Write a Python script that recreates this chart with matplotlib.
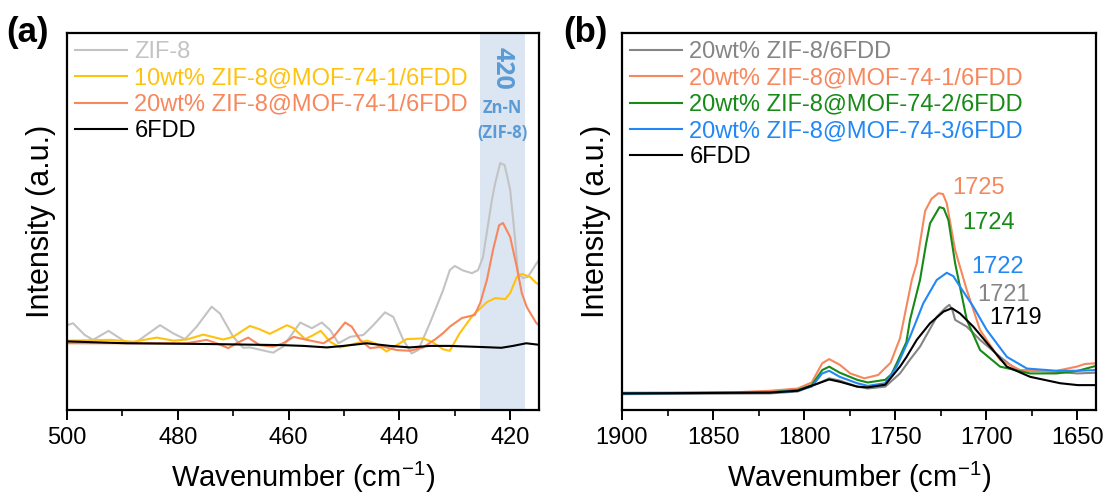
import numpy as np
import matplotlib
matplotlib.use("Agg")
import matplotlib.pyplot as plt
from matplotlib.ticker import MultipleLocator

plt.rcParams['font.family'] = ['Liberation Sans', 'DejaVu Sans']
plt.rcParams['mathtext.fontset'] = 'custom'
plt.rcParams['mathtext.rm'] = 'Liberation Sans'
plt.rcParams['mathtext.it'] = 'Liberation Sans:italic'

# ---- panel (a): Zn-N region ----
wn_zif8 = [500, 498.9, 496.8, 495.3, 492.5, 489.2, 487.4, 483.2, 480.8, 478.7, 476.6, 473.9,
           472.4, 470.0, 468.2, 467.0, 462.8, 461.0, 457.9, 455.8, 454.0, 452.5, 451.0, 448.9,
           446.5, 444.7, 442.6, 441.1, 439.3, 437.8, 436.6, 434.5, 432.1, 430.9, 430.0, 428.5,
           426.9, 425.8, 424.9, 423.3, 422.7, 421.8, 421.0, 420.0, 419.1, 418.6, 417.7, 416.8,
           415.2, 414.8]
int_zif8 = [0.225, 0.230, 0.199, 0.186, 0.210, 0.178, 0.181, 0.225, 0.203, 0.188, 0.221, 0.274,
            0.256, 0.194, 0.165, 0.166, 0.152, 0.168, 0.232, 0.217, 0.232, 0.212, 0.177, 0.194,
            0.199, 0.225, 0.259, 0.247, 0.186, 0.150, 0.159, 0.230, 0.318, 0.371, 0.382, 0.370,
            0.363, 0.371, 0.406, 0.557, 0.602, 0.655, 0.650, 0.584, 0.451, 0.363, 0.350, 0.353,
            0.390, 0.398]

wn_10 = [500, 492.2, 488.0, 483.8, 480.8, 478.4, 475.4, 471.8, 470.0, 467.0, 465.2, 463.4,
         460.3, 459.1, 457.0, 455.5, 454.2, 452.5, 450.7, 448.3, 445.9, 444.4, 442.3, 440.5,
         438.7, 435.7, 433.9, 432.1, 430.9, 429.1, 426.7, 424.2, 422.7, 420.9, 420.0, 418.8,
         417.9, 416.4, 415.3, 414.8]
int_10 = [0.184, 0.186, 0.181, 0.192, 0.184, 0.187, 0.200, 0.187, 0.194, 0.223, 0.214, 0.202,
          0.225, 0.217, 0.188, 0.199, 0.210, 0.181, 0.166, 0.175, 0.184, 0.177, 0.155, 0.172,
          0.188, 0.190, 0.179, 0.161, 0.157, 0.204, 0.252, 0.286, 0.297, 0.294, 0.310, 0.353,
          0.361, 0.353, 0.337, 0.333]

wn_20a = [500, 483.2, 478.4, 474.8, 473.0, 470.9, 469.4, 467.3, 465.2, 462.8, 461.0, 459.1,
          456.7, 453.7, 451.9, 449.8, 448.6, 447.1, 445.3, 442.9, 440.5, 438.1, 435.7, 433.3,
          432.1, 430.9, 428.7, 426.4, 425.4, 424.2, 423.1, 422.0, 421.3, 420.0, 418.8, 417.9,
          417.0, 415.3, 414.8]
int_20a = [0.177, 0.177, 0.177, 0.186, 0.177, 0.164, 0.177, 0.192, 0.172, 0.168, 0.177, 0.194,
           0.186, 0.177, 0.194, 0.232, 0.221, 0.186, 0.164, 0.168, 0.159, 0.157, 0.166, 0.190,
           0.204, 0.221, 0.244, 0.252, 0.284, 0.345, 0.424, 0.490, 0.496, 0.459, 0.379, 0.310,
           0.273, 0.231, 0.225]

wn_6fdd_a = [500, 489.2, 474.4, 461.0, 457.3, 453.1, 450.1, 445.9, 441.7, 438.1, 434.5, 430.9,
             425.0, 421.6, 419.5, 417.1, 414.8]
int_6fdd_a = [0.182, 0.177, 0.175, 0.172, 0.170, 0.166, 0.170, 0.177, 0.170, 0.166, 0.170, 0.170,
              0.167, 0.165, 0.170, 0.177, 0.173]

# ---- panel (b): C=O region ----
wn_b_orange = [1900, 1838, 1818.8, 1803.5, 1795.8, 1790, 1786.2, 1780.4, 1774.6, 1766.9, 1759.2,
               1756.6, 1752.5, 1747.3, 1740.8, 1738.1, 1733.5, 1730.0, 1726.2, 1723.7, 1721.6,
               1717.0, 1710.6, 1703.3, 1692.3, 1681.3, 1663.2, 1650.2, 1645.8, 1639.6]
int_b_orange = [0.046, 0.047, 0.051, 0.057, 0.073, 0.124, 0.135, 0.120, 0.097, 0.084, 0.093,
                0.106, 0.125, 0.190, 0.345, 0.389, 0.528, 0.560, 0.575, 0.573, 0.548,
                0.424, 0.318, 0.212, 0.133, 0.106, 0.102, 0.115, 0.122, 0.124]

wn_b_green = [1900, 1818.8, 1803.5, 1795.8, 1790, 1786.2, 1780.4, 1770.8, 1765, 1755.4, 1752.0,
              1749.0, 1743.8, 1741.8, 1736.3, 1733.0, 1730.8, 1725.6, 1723.3, 1720.7, 1717.0,
              1710.6, 1703.3, 1692.3, 1675.8, 1661.2, 1649.6, 1639.6]
int_b_green = [0.044, 0.047, 0.053, 0.066, 0.106, 0.115, 0.099, 0.080, 0.073, 0.080, 0.095,
               0.125, 0.180, 0.239, 0.345, 0.440, 0.495, 0.538, 0.535, 0.504, 0.389,
               0.239, 0.159, 0.115, 0.097, 0.097, 0.104, 0.117]

wn_b_blue = [1900, 1818.8, 1803.5, 1795.8, 1790, 1786.2, 1780.4, 1770.8, 1765, 1755.4, 1749.1,
             1741.8, 1734.5, 1727.1, 1721.6, 1718.0, 1714.3, 1707.0, 1699.6, 1688.6, 1677.6,
             1661.2, 1649.6, 1639.6]
int_b_blue = [0.044, 0.046, 0.051, 0.062, 0.097, 0.104, 0.088, 0.071, 0.064, 0.071, 0.115,
              0.194, 0.283, 0.345, 0.364, 0.355, 0.327, 0.274, 0.212, 0.141, 0.110,
              0.104, 0.104, 0.106]

wn_b_gray = [1900, 1818.8, 1803.5, 1792, 1786.2, 1780.4, 1770.8, 1765, 1755.4, 1747.3, 1741.9,
             1736.3, 1727.1, 1722.5, 1720.2, 1718.5, 1717.0, 1710.6, 1703.3, 1692.3, 1683.1,
             1665, 1649.6, 1639.6]
int_b_gray = [0.042, 0.044, 0.049, 0.071, 0.084, 0.078, 0.062, 0.057, 0.062, 0.097, 0.133,
              0.168, 0.247, 0.270, 0.279, 0.265, 0.239, 0.221, 0.186, 0.141, 0.106,
              0.102, 0.097, 0.099]

wn_b_black = [1900, 1818.8, 1803.5, 1792, 1786.2, 1780.4, 1770.8, 1765, 1755.4, 1747.3, 1743.8,
              1738.1, 1730.8, 1723.4, 1718.8, 1714.3, 1707.0, 1697.8, 1688.6, 1675.8, 1659.3,
              1649.6, 1639.6]
int_b_black = [0.044, 0.046, 0.051, 0.071, 0.081, 0.075, 0.062, 0.060, 0.067, 0.115, 0.140,
               0.186, 0.230, 0.261, 0.270, 0.256, 0.221, 0.168, 0.115, 0.088, 0.071,
               0.066, 0.066]

peak_labels = ['1725', '1724', '1722', '1721', '1719']

c_zif8a = '#c3c3c3'
c_yellow = '#ffc20e'
c_orange = '#f7875d'
c_gray = '#858585'
c_green = '#178a17'
c_blue = '#2288f5'
c_band_text = '#5b9bd5'

fig = plt.figure(figsize=(11.04, 5.0), dpi=100)
ax1 = fig.add_axes([0.0607, 0.18, 0.4275, 0.754])
ax2 = fig.add_axes([0.5634, 0.18, 0.4294, 0.754])

lw = 1.5
ax1.axvspan(425.4, 417.3, color='#dce6f2', zorder=0, lw=0)
ax1.plot(wn_zif8, int_zif8, color=c_zif8a, lw=lw, label='ZIF-8')
ax1.plot(wn_10, int_10, color=c_yellow, lw=lw, label='10wt% ZIF-8@MOF-74-1/6FDD')
ax1.plot(wn_20a, int_20a, color=c_orange, lw=lw, label='20wt% ZIF-8@MOF-74-1/6FDD')
ax1.plot(wn_6fdd_a, int_6fdd_a, color='black', lw=lw, label='6FDD')
ax1.set_xlim(500, 414.8)
ax1.xaxis.set_major_locator(MultipleLocator(20))
ax1.xaxis.set_minor_locator(MultipleLocator(10))

# band annotation
band_font = ['Open Sans', 'DejaVu Sans']
ax1.text(421.4, 0.905, '420', rotation=-90, color=c_band_text, fontsize=18, fontweight='bold',
         ha='center', va='center', family=band_font)
ax1.text(421.4, 0.80, 'Zn-N', color=c_band_text, fontsize=12, fontweight='bold',
         ha='center', va='center', family=band_font)
ax1.text(421.4, 0.735, '(ZIF-8)', color=c_band_text, fontsize=12, fontweight='bold',
         ha='center', va='center', family=band_font)

ax2.plot(wn_b_gray, int_b_gray, color=c_gray, lw=lw, label='20wt% ZIF-8/6FDD')
ax2.plot(wn_b_orange, int_b_orange, color=c_orange, lw=lw, label='20wt% ZIF-8@MOF-74-1/6FDD')
ax2.plot(wn_b_green, int_b_green, color=c_green, lw=lw, label='20wt% ZIF-8@MOF-74-2/6FDD')
ax2.plot(wn_b_blue, int_b_blue, color=c_blue, lw=lw, label='20wt% ZIF-8@MOF-74-3/6FDD')
ax2.plot(wn_b_black, int_b_black, color='black', lw=lw, label='6FDD')
ax2.set_xlim(1900, 1639.6)
ax2.xaxis.set_major_locator(MultipleLocator(50))
ax2.xaxis.set_minor_locator(MultipleLocator(25))

# peak position labels
ax2.text(1718.8, 0.588, peak_labels[0], color=c_orange, fontsize=17, va='center')
ax2.text(1713.3, 0.495, peak_labels[1], color=c_green, fontsize=17, va='center')
ax2.text(1707.9, 0.380, peak_labels[2], color=c_blue, fontsize=17, va='center')
ax2.text(1705.1, 0.305, peak_labels[3], color=c_gray, fontsize=17, va='center')
ax2.text(1698.2, 0.243, peak_labels[4], color='black', fontsize=17, va='center')

for ax in (ax1, ax2):
    for line in ax.get_lines():
        line.set_solid_joinstyle('round')
    ax.set_ylim(0, 1)
    ax.set_yticks([])
    for sp in ax.spines.values():
        sp.set_linewidth(1.6)
    ax.tick_params(axis='x', which='major', direction='out', length=7, width=1.4,
                   labelsize=17, pad=5)
    ax.tick_params(axis='x', which='minor', direction='out', length=4, width=1.2)
    ax.set_xlabel('Wavenumber (cm$^{-1}$)', fontsize=21, labelpad=8)
    ax.set_ylabel('Intensity (a.u.)', fontsize=22, labelpad=8)
    ax.legend(loc='upper left', bbox_to_anchor=(0.0, 1.0), frameon=False, fontsize=17,
              labelcolor='linecolor', handlelength=2.2, handletextpad=0.3,
              labelspacing=0.18, borderaxespad=0.15, borderpad=0.2)

fig.text(0.006, 0.968, '(a)', fontsize=25, fontweight='bold', va='top', ha='left')
fig.text(0.510, 0.968, '(b)', fontsize=25, fontweight='bold', va='top', ha='left')

fig.savefig('out.png', dpi=100)
